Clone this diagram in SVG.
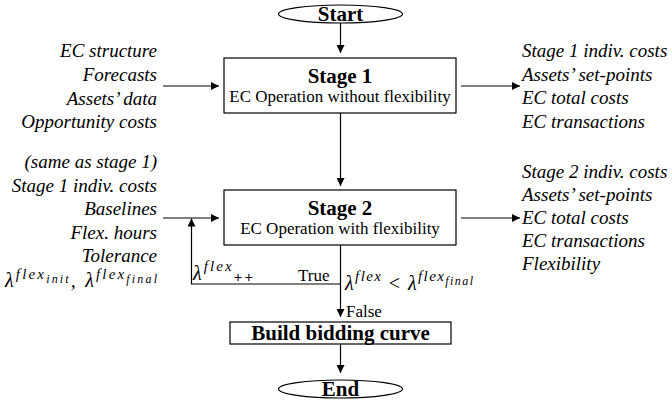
<svg xmlns="http://www.w3.org/2000/svg" width="672" height="400" viewBox="0 0 672 400">
<defs>
<marker id="ah" viewBox="0 0 10 10" refX="10" refY="5" markerWidth="8" markerHeight="8" markerUnits="userSpaceOnUse" orient="auto">
<path d="M0,0 L10,5 L0,10 z" fill="#000"/>
</marker>
<style>
text { font-family: "Liberation Serif", "DejaVu Serif", serif; fill: #000; }
.it { font-style: italic; font-size: 19px; }
.r { text-anchor: end; }
.c { text-anchor: middle; }
.bt { font-weight: bold; font-size: 21px; }
.sub { font-size: 17px; }
.lbl { font-size: 17px; }
.m { font-style: italic; font-size: 20px; }
.box { fill: #fff; stroke: #000; stroke-width: 1.2; }
.cn { fill: none; stroke: #000; stroke-width: 1.2; }
.ar { marker-end: url(#ah); }
</style>
</defs>
<rect width="672" height="400" fill="#fff"/>

<g id="connectors">
<line class="cn ar" x1="340.5" y1="23" x2="340.5" y2="53"/>
<line class="cn ar" x1="340.5" y1="113" x2="340.5" y2="186"/>
<line class="cn ar" x1="340.5" y1="245" x2="340.5" y2="317"/>
<line class="cn ar" x1="340.5" y1="344" x2="340.5" y2="373"/>
<line class="cn ar" x1="163" y1="86" x2="219" y2="86"/>
<line class="cn ar" x1="461" y1="86" x2="520" y2="86"/>
<line class="cn ar" x1="163" y1="218" x2="219" y2="218"/>
<line class="cn ar" x1="461" y1="218" x2="520" y2="218"/>
<polyline class="cn ar" points="340.5,284 191.5,284 191.5,218.5"/>
</g>

<g id="start">
<ellipse cx="340.5" cy="14" rx="62" ry="9" class="box"/>
<text x="340.5" y="21" class="c bt">Start</text>
</g>

<g id="stage1">
<rect x="224" y="58" width="232" height="55" class="box"/>
<text x="340" y="83" class="c bt">Stage 1</text>
<text x="340" y="102" class="c sub">EC Operation without flexibility</text>
</g>

<g id="stage2">
<rect x="224" y="190" width="232" height="55" class="box"/>
<text x="340" y="215" class="c bt">Stage 2</text>
<text x="340" y="234" class="c sub">EC Operation with flexibility</text>
</g>

<g id="build">
<rect x="230" y="322" width="221" height="22" class="box"/>
<text x="340.5" y="340" class="c bt">Build bidding curve</text>
</g>

<g id="end">
<ellipse cx="340.5" cy="389" rx="62" ry="9" class="box"/>
<text x="340.5" y="396" class="c bt">End</text>
</g>

<g id="inputs1">
<text x="157" y="57" class="it r">EC structure</text>
<text x="157" y="81" class="it r">Forecasts</text>
<text x="157" y="105" class="it r">Assets’ data</text>
<text x="157" y="128" class="it r">Opportunity costs</text>
</g>

<g id="outputs1">
<text x="522" y="57" class="it">Stage 1 indiv. costs</text>
<text x="522" y="80.5" class="it">Assets’ set-points</text>
<text x="522" y="104" class="it">EC total costs</text>
<text x="522" y="127.5" class="it">EC transactions</text>
</g>

<g id="inputs2">
<text x="157" y="168" class="it r">(same as stage 1)</text>
<text x="157" y="191.5" class="it r">Stage 1 indiv. costs</text>
<text x="157" y="215" class="it r">Baselines</text>
<text x="157" y="238.5" class="it r">Flex. hours</text>
<text x="157" y="262" class="it r">Tolerance</text>
<text x="5" y="287" class="m" textLength="152" lengthAdjust="spacing">λ<tspan dy="-8" font-size="15">flex</tspan><tspan dy="4" font-size="12">init</tspan><tspan dy="4">, λ</tspan><tspan dy="-8" font-size="15">flex</tspan><tspan dy="4" font-size="12">final</tspan></text>
</g>

<g id="outputs2">
<text x="522" y="178" class="it">Stage 2 indiv. costs</text>
<text x="522" y="201" class="it">Assets’ set-points</text>
<text x="522" y="224" class="it">EC total costs</text>
<text x="522" y="247" class="it">EC transactions</text>
<text x="522" y="270" class="it">Flexibility</text>
</g>

<g id="loop-labels">
<text x="193" y="280" class="m" textLength="60" lengthAdjust="spacing">λ<tspan dy="-9" font-size="15">flex</tspan><tspan dy="11" font-size="15" font-style="normal" font-weight="bold">++</tspan></text>
<text x="298" y="281" class="lbl">True</text>
<text x="345" y="290" class="m" textLength="128" lengthAdjust="spacing">λ<tspan dy="-9" font-size="15">flex</tspan><tspan dy="9" font-style="normal"> &lt; </tspan>λ<tspan dy="-9" font-size="15">flex</tspan><tspan dy="4" font-size="12">final</tspan></text>
<text x="346" y="317" class="lbl">False</text>
</g>
</svg>
